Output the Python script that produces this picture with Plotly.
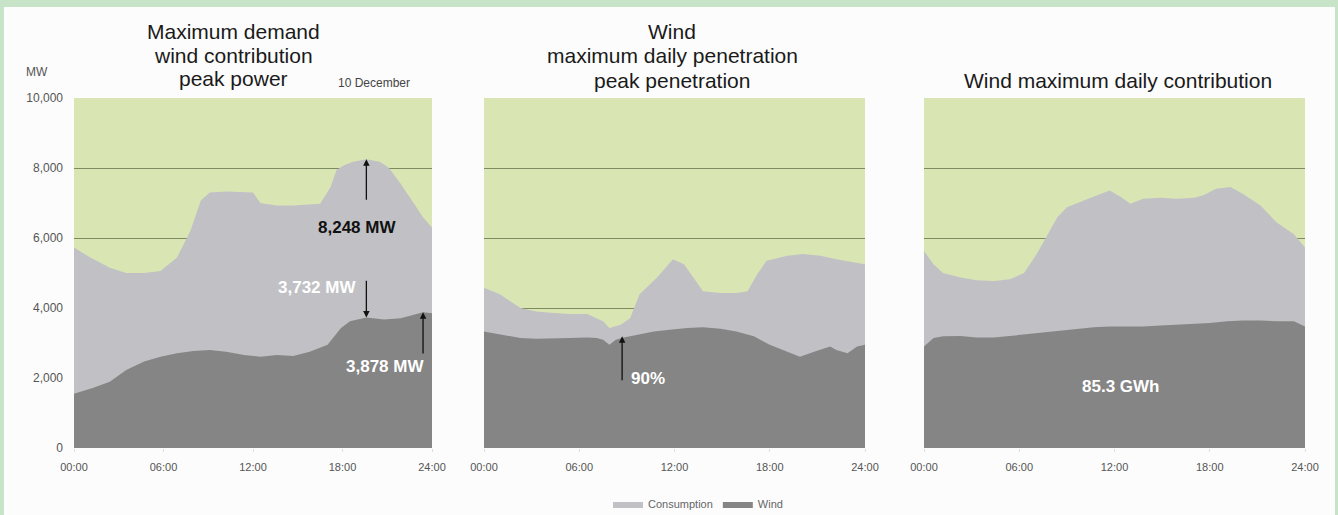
import plotly.graph_objects as go
from plotly.subplots import make_subplots

# ---- data (MW) ----
# panel 1: maximum demand day, 10 December
p1_demand_hours = [0, 1.1, 2.4, 3.5, 4.7, 5.8, 6.9, 7.8, 8.5, 9.1, 10.2, 12.0, 12.5, 13.6, 14.7,
                   16.5, 17.2, 17.6, 18.1, 18.7, 19.6, 20.5, 21.1, 21.9, 22.8, 23.4, 24]
p1_demand = [5730, 5440, 5150, 5000, 5000, 5060, 5440, 6200, 7070, 7300, 7330, 7300, 7000, 6930, 6930,
             6980, 7460, 7940, 8080, 8180, 8248, 8180, 8010, 7550, 6980, 6590, 6300]
p1_wind_hours = [0, 1.3, 2.4, 3.5, 4.7, 5.8, 6.9, 8.0, 9.1, 10.2, 11.4, 12.5, 13.6, 14.7, 15.8,
                 17.0, 17.9, 18.5, 19.6, 20.8, 21.9, 23.4, 24]
p1_wind = [1550, 1720, 1890, 2230, 2470, 2610, 2710, 2770, 2800, 2750, 2660, 2610, 2660, 2630, 2750,
           2950, 3430, 3620, 3732, 3670, 3710, 3878, 3850]

# panel 2: maximum daily penetration
p2_demand_hours = [0, 1.0, 2.3, 3.3, 4.4, 5.4, 6.5, 7.5, 7.9, 8.6, 9.2, 9.8, 10.9, 11.9, 12.6, 13.2,
                   13.8, 14.9, 15.9, 16.6, 17.2, 17.8, 19.1, 20.1, 21.2, 22.2, 23.3, 24]
p2_demand = [4580, 4390, 4000, 3900, 3860, 3830, 3830, 3620, 3430, 3520, 3710, 4390, 4870, 5390, 5250, 4870,
             4480, 4430, 4430, 4480, 4960, 5350, 5490, 5540, 5490, 5390, 5300, 5250]
p2_wind_hours = [0, 1.2, 2.3, 3.3, 4.4, 5.4, 6.5, 7.1, 7.5, 7.9, 8.3, 8.8, 9.6, 10.7, 11.7, 12.8, 13.8,
                 14.9, 15.9, 17.0, 18.0, 19.1, 19.9, 20.8, 21.8, 22.2, 22.9, 23.5, 24]
p2_wind = [3330, 3230, 3140, 3120, 3120, 3140, 3160, 3140, 3090, 2950, 3090, 3160, 3230, 3330, 3380, 3430, 3450,
           3410, 3330, 3190, 2950, 2750, 2610, 2750, 2900, 2800, 2710, 2900, 2950]

# panel 3: maximum daily contribution
p3_demand_hours = [0, 0.6, 1.2, 2.3, 3.3, 4.4, 5.4, 6.3, 7.1, 7.7, 8.4, 9.0, 10.0, 10.9, 11.7, 12.4, 13.0,
                   13.8, 14.9, 15.9, 17.0, 17.6, 18.4, 19.3, 20.1, 21.2, 22.2, 23.3, 24]
p3_demand = [5630, 5250, 5000, 4870, 4790, 4770, 4820, 5000, 5540, 6020, 6590, 6880, 7070, 7220, 7360, 7170, 6980,
             7120, 7150, 7120, 7150, 7220, 7410, 7460, 7260, 6930, 6450, 6110, 5730]
p3_wind_hours = [0, 0.6, 1.2, 2.3, 3.3, 4.4, 5.4, 6.5, 7.5, 8.6, 9.6, 10.7, 11.7, 12.8, 13.8, 14.9, 15.9,
                 17.0, 18.0, 19.1, 20.1, 21.2, 22.2, 23.3, 24]
p3_wind = [2900, 3140, 3190, 3200, 3160, 3160, 3200, 3250, 3310, 3350, 3410, 3450, 3470, 3470, 3470, 3500, 3520,
           3550, 3570, 3620, 3640, 3640, 3620, 3620, 3470]

tick_hours = [0, 6, 12, 18, 24]
tick_text = ["00:00", "06:00", "12:00", "18:00", "24:00"]
y_ticks = [0, 2000, 4000, 6000, 8000, 10000]
y_text = ["0", "2,000", "4,000", "6,000", "8,000", "10,000"]

GREEN = "#d9e6b4"
CONS = "#c1c1c5"
WIND = "#858585"
FONT = "Liberation Sans, Arial, sans-serif"

W, H = 1338, 515
ML, MR, MT, MB = 74, 33, 98, 67


def px(x, y):
    # pixel -> paper coords
    return (x - ML) / (W - ML - MR), (H - MB - y) / (H - MT - MB)


fig = make_subplots(rows=1, cols=3)

panels = [(p1_demand_hours, p1_demand, p1_wind_hours, p1_wind),
          (p2_demand_hours, p2_demand, p2_wind_hours, p2_wind),
          (p3_demand_hours, p3_demand, p3_wind_hours, p3_wind)]
for i, (dh, d, wh, w) in enumerate(panels):
    fig.add_trace(go.Scatter(x=dh, y=d, fill="tozeroy", mode="lines", line=dict(width=0),
                             fillcolor=CONS, name="Consumption", showlegend=(i == 0)), row=1, col=i + 1)
    fig.add_trace(go.Scatter(x=wh, y=w, fill="tozeroy", mode="lines", line=dict(width=0),
                             fillcolor=WIND, name="Wind", showlegend=(i == 0)), row=1, col=i + 1)

domains = [(px(74, 0)[0], px(432, 0)[0]), (px(484, 0)[0], px(865, 0)[0]), (px(924, 0)[0], 1.0)]
for i, dom in enumerate(domains):
    fig.update_xaxes(domain=list(dom), range=[0, 24], tickvals=tick_hours, ticktext=tick_text,
                     showgrid=False, zeroline=False, ticks="outside", ticklen=3, tickcolor="#dddddd",
                     ticklabelstandoff=6,
                     tickfont=dict(size=11, color="#555555", family=FONT), row=1, col=i + 1)
    fig.update_yaxes(range=[0, 10000], tickvals=y_ticks, ticktext=y_text, showgrid=True,
                     gridcolor="#7c8c60", gridwidth=1, zeroline=False, showticklabels=(i == 0),
                     tickfont=dict(size=12, color="#555555", family=FONT), ticklabelstandoff=10,
                     row=1, col=i + 1)

ann = []
# titles
title_lines = [("Maximum demand", 233, 32), ("wind contribution", 233, 55), ("peak power", 233, 78),
               ("Wind", 672, 32), ("maximum daily penetration", 672, 56), ("peak penetration", 672, 80),
               ("Wind maximum daily contribution", 1118, 80)]
for t, x, y in title_lines:
    xp, yp = px(x, y)
    ann.append(dict(text=t, x=xp, y=yp, xref="paper", yref="paper", showarrow=False,
                    xanchor="center", yanchor="middle", font=dict(size=21, color="#1a1a1a", family=FONT)))
xp, yp = px(374, 83)
ann.append(dict(text="10 December", x=xp, y=yp, xref="paper", yref="paper", showarrow=False,
                xanchor="center", yanchor="middle", font=dict(size=12, color="#444444", family=FONT)))
xp, yp = px(37, 72)
ann.append(dict(text="MW", x=xp, y=yp, xref="paper", yref="paper", showarrow=False,
                xanchor="center", yanchor="middle", font=dict(size=12, color="#555555", family=FONT)))

# arrows (head at x,y ; tail at ax,ay)
arrows = [("x", "y", 19.6, 8248, 7050), ("x", "y", 19.6, 3732, 4820),
          ("x", "y", 23.4, 3878, 2660), ("x2", "y2", 8.7, 3190, 1890)]
for xr, yr, x, y, ytail in arrows:
    ann.append(dict(text="", x=x, y=y, ax=x, ay=ytail, xref=xr, yref=yr, axref=xr, ayref=yr,
                    showarrow=True, arrowhead=2, arrowsize=1, arrowwidth=1.3, arrowcolor="#111111"))

labels = [("8,248 MW", "x", "y", 19.0, 6300, "#111111"),
          ("3,732 MW", "x", "y", 16.3, 4580, "white"),
          ("3,878 MW", "x", "y", 20.85, 2320, "white"),
          ("90%", "x2", "y2", 10.3, 1990, "white"),
          ("85.3 GWh", "x3", "y3", 12.35, 1750, "white")]
for t, xr, yr, x, y, c in labels:
    ann.append(dict(text="<b>" + t + "</b>", x=x, y=y, xref=xr, yref=yr, showarrow=False,
                    xanchor="center", yanchor="middle", font=dict(size=17, color=c, family=FONT)))

# light green frame round the picture
frame = []
for x0, y0, x1, y1 in [(0, 0, 4, 515), (0, 0, 1338, 7), (1335, 0, 1338, 515)]:
    a, b = px(x0, y0)
    c, d = px(x1, y1)
    frame.append(dict(type="rect", xref="paper", yref="paper", x0=a, y0=b, x1=c, y1=d,
                      fillcolor="#c8e4c8", line=dict(width=0), layer="above"))

lx, ly = px(608, 504)
fig.update_layout(
    width=W, height=H,
    margin=dict(l=ML, r=MR, t=MT, b=MB, autoexpand=False),
    paper_bgcolor="#fcfcfc", plot_bgcolor=GREEN,
    font=dict(family=FONT),
    annotations=ann, shapes=frame,
    legend=dict(orientation="h", x=lx, y=ly, xanchor="left", yanchor="middle",
                font=dict(size=11, color="#666666"), itemwidth=30, bgcolor="rgba(0,0,0,0)"),
)

# the page has a default 8px body margin; drop it so the figure fills the window
fig.write_html("out.html", config={"displayModeBar": False},
               post_script="document.body.style.margin='0';")
